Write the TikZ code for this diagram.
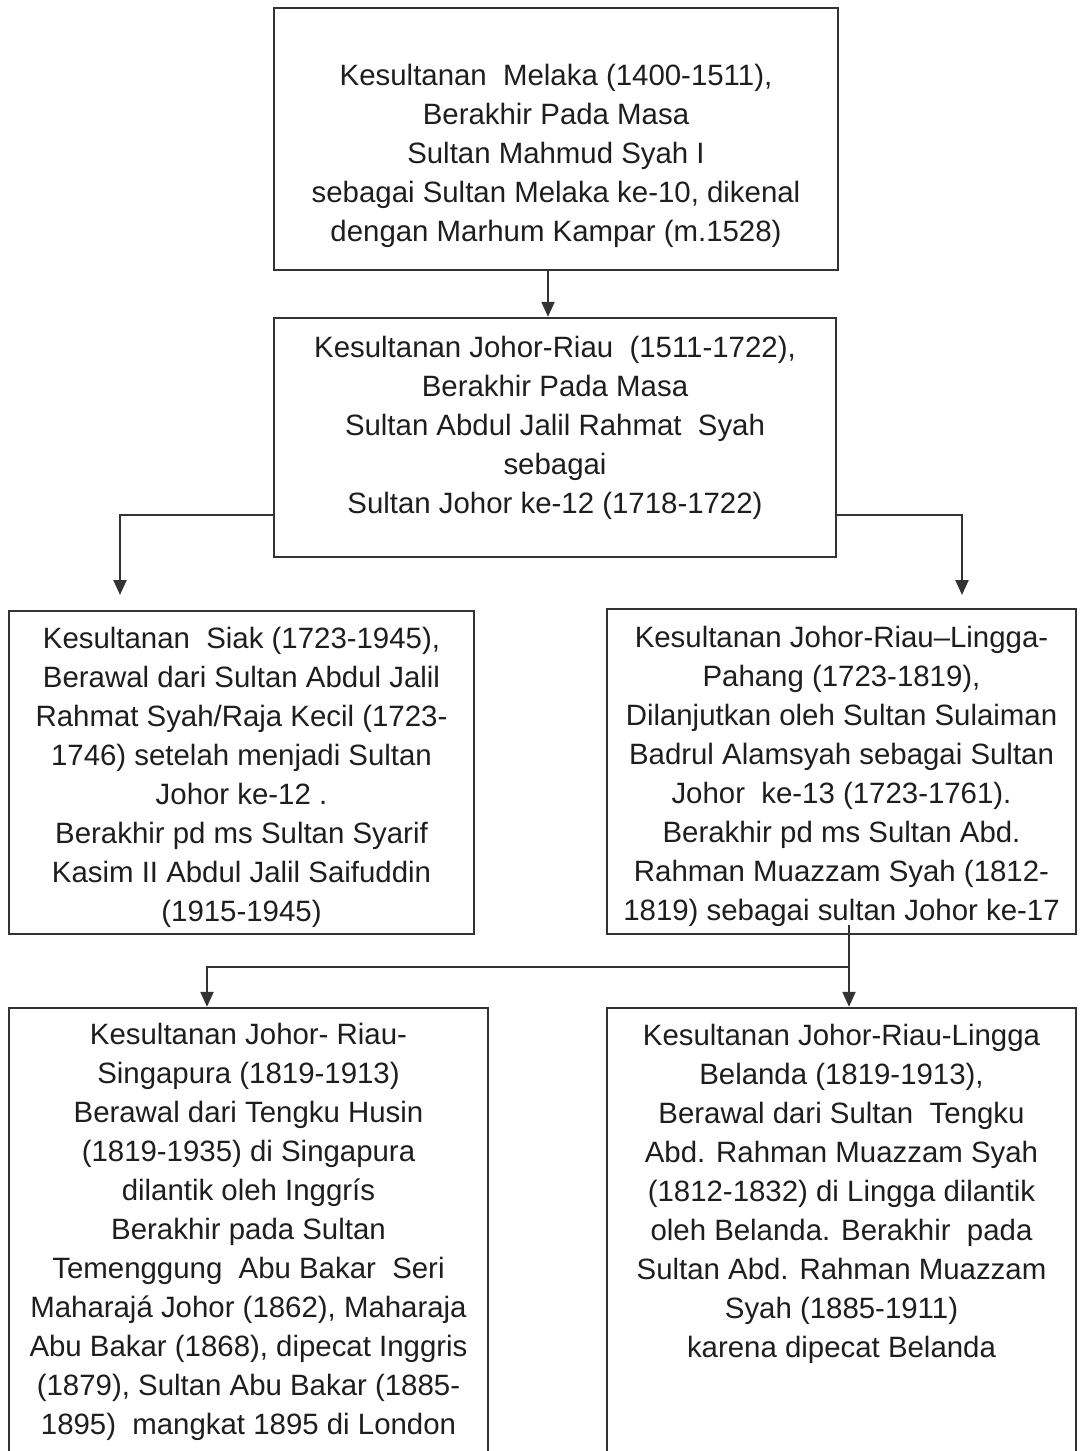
\documentclass[tikz,border=0pt]{standalone}
\usepackage{fontspec}
\setmainfont{Liberation Sans}
\usetikzlibrary{arrows.meta}
\definecolor{ink}{HTML}{1E1E1E}
\definecolor{edge}{HTML}{333333}
\begin{document}
\begin{tikzpicture}[x=1pt,y=-1pt,
  box/.style={draw=edge, line width=2.4pt, rectangle, inner sep=0pt},
  txt/.style={align=center, inner sep=0pt, anchor=north, font=\fontsize{29.4}{39}\selectfont, text=ink},
  arr/.style={draw=edge, line width=2.2pt, -{Triangle[length=15pt,width=13pt]}}]
\useasboundingbox (0,0) rectangle (1079,1451);
\clip (0,0) rectangle (1079,1451);
\fill[white] (0,0) rectangle (1079,1451);

% boxes
\node[box, minimum width=564pt, minimum height=262pt] (b1) at (556,139) {};
\node[box, minimum width=562pt, minimum height=239pt] (b2) at (555,437.5) {};
\node[box, minimum width=465pt, minimum height=323pt] (b3) at (241.5,772.5) {};
\node[box, minimum width=469pt, minimum height=325pt] (b4) at (841.5,771.5) {};
\node[box, minimum width=479pt, minimum height=492pt] (b5) at (248.5,1254) {};
\node[box, minimum width=469pt, minimum height=492pt] (b6) at (841.5,1254) {};

% texts
\node[txt] (t1) at (556,64) {Kesultanan\ \ Melaka (1400-1511),\\Berakhir Pada Masa\\Sultan Mahmud Syah I\\sebagai Sultan Melaka ke-10, dikenal\\dengan Marhum Kampar (m.1528)};
\node[txt] (t2) at (555,336) {Kesultanan Johor-Riau\ \ (1511-1722),\\Berakhir Pada Masa\\Sultan Abdul Jalil Rahmat\ \ Syah\\sebagai\\Sultan Johor ke-12 (1718-1722)};
\node[txt] (t3) at (241.5,627) {Kesultanan\ \ Siak (1723-1945),\\Berawal dari Sultan Abdul Jalil\\Rahmat Syah/Raja Kecil (1723-\\1746) setelah menjadi Sultan\\Johor ke-12 .\\Berakhir pd ms Sultan Syarif\\Kasim II Abdul Jalil Saifuddin\\(1915-1945)};
\node[txt] (t4) at (841.5,626) {Kesultanan Johor-Riau–Lingga-\\Pahang (1723-1819),\\Dilanjutkan oleh Sultan Sulaiman\\Badrul Alamsyah sebagai Sultan\\Johor\ \ ke-13 (1723-1761).\\Berakhir pd ms Sultan Abd.\\Rahman Muazzam Syah (1812-\\1819) sebagai sultan Johor ke-17};
\node[txt] (t5) at (248.5,1023) {Kesultanan Johor- Riau-\\Singapura (1819-1913)\\Berawal dari Tengku Husin\\(1819-1935) di Singapura\\dilantik oleh Inggrís\\Berakhir pada Sultan\\Temenggung\ \ Abu Bakar\ \ Seri\\Maharajá Johor (1862), Maharaja\\Abu Bakar (1868), dipecat Inggris\\(1879), Sultan Abu Bakar (1885-\\1895)\ \ mangkat 1895 di London};
\node[txt] (t6) at (841.5,1024) {Kesultanan Johor-Riau-Lingga\\Belanda (1819-1913),\\Berawal dari Sultan\ \ Tengku\\Abd. Rahman Muazzam Syah\\(1812-1832) di Lingga dilantik\\oleh Belanda. Berakhir\ \ pada\\Sultan Abd. Rahman Muazzam\\Syah (1885-1911)\\karena dipecat Belanda};

% connectors
\coordinate (a12) at (548,0);
\draw[arr] (b1.south -| a12) -- (b2.north -| a12);
\coordinate (j2) at (555,515);
\coordinate (l3) at (120,595);
\coordinate (r3) at (962,595);
\draw[arr] (b2.west |- j2) -| (l3);
\draw[arr] (b2.east |- j2) -| (r3);
\coordinate (s4) at (849,925);
\coordinate (h4) at (849,967);
\coordinate (l5) at (207,0);
\draw[arr] (s4) -- (b6.north -| s4);
\draw[arr] (h4) -| (b5.north -| l5);
\end{tikzpicture}
\end{document}
